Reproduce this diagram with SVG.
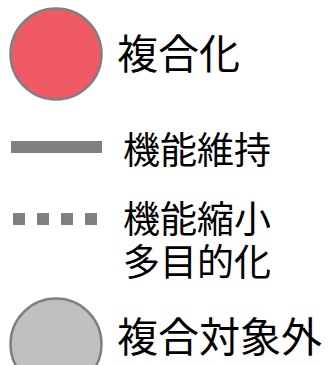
<svg xmlns="http://www.w3.org/2000/svg" width="333" height="365" viewBox="0 0 333 365">
<style>
.lbl{font-family:"Noto Sans CJK JP","Noto Sans",sans-serif;fill:#000;}
.big{font-size:41px;}
.mid{font-size:37px;}
.circ{stroke:#808080;stroke-width:2.5;}
.ln{stroke:#808080;stroke-width:12;fill:none;}
</style>
<rect width="333" height="365" fill="#fff"/>
<g id="legend-composite">
<circle class="circ" cx="56" cy="54" r="45.5" fill="#F05A64"/>
<text class="lbl big" x="117" y="69">複合化</text>
</g>
<g id="connectors">
<line id="legend-maintain" class="ln" x1="11" y1="147" x2="102" y2="147"/>
<line id="legend-reduce" class="ln" x1="13" y1="219" x2="97" y2="219" stroke-dasharray="12 12"/>
</g>
<g id="legend-maintain-label">
<text class="lbl mid" x="123" y="164">機能維持</text>
</g>
<g id="legend-reduce-label">
<text class="lbl mid"><tspan x="123" y="233">機能縮小</tspan><tspan x="123" y="276">多目的化</tspan></text>
</g>
<g id="legend-excluded">
<circle class="circ" cx="56" cy="344" r="45.5" fill="#C0C0C0"/>
<text class="lbl big" x="117" y="352">複合対象外</text>
</g>
</svg>
